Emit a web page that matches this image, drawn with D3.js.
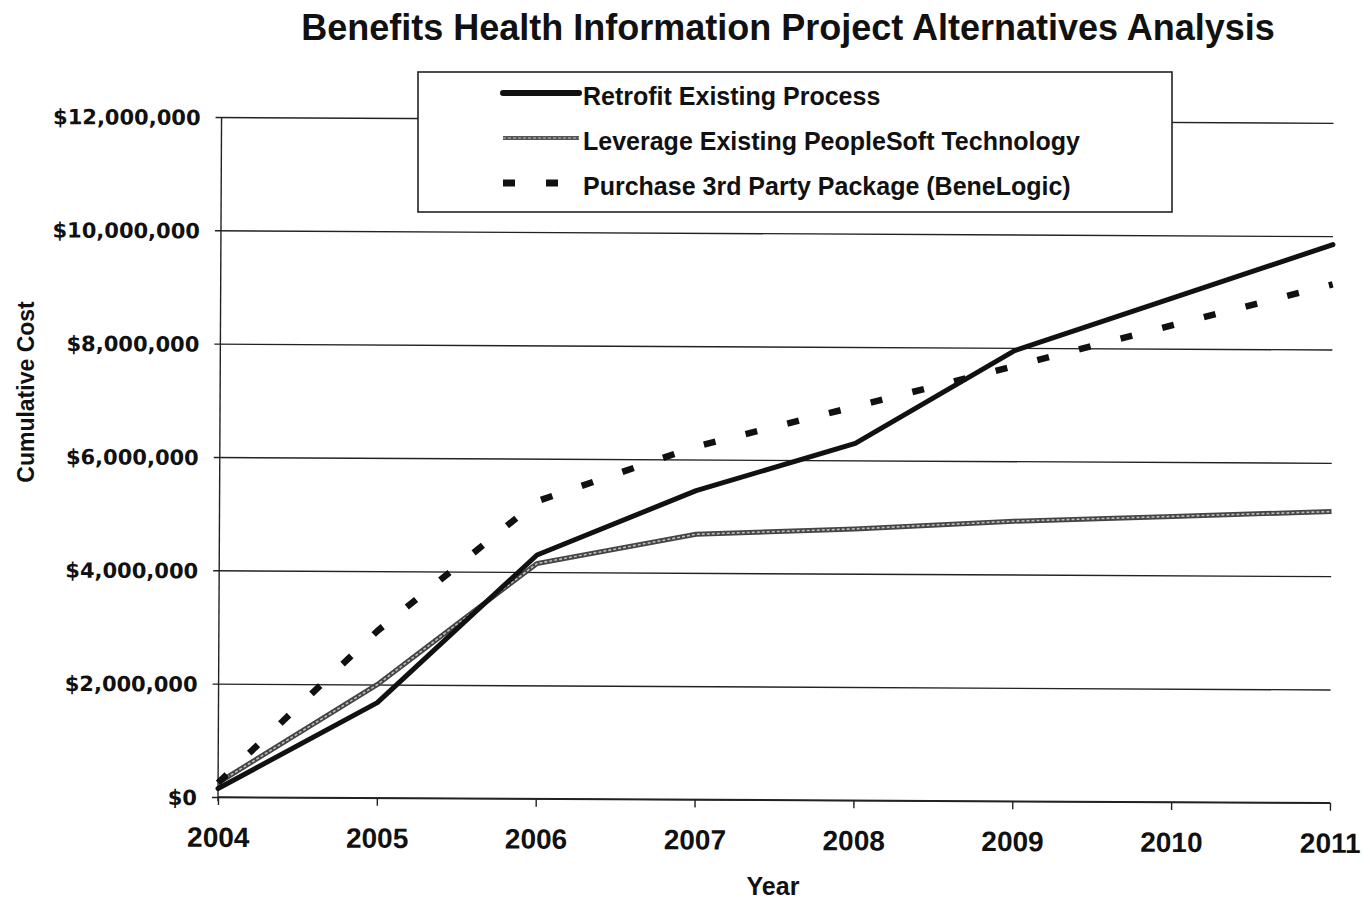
<!DOCTYPE html>
<html>
<head>
<meta charset="utf-8">
<script src="https://cdn.jsdelivr.net/npm/d3@7"></script>
<style>
    body { margin: 0; background: #fff; }
    text { font-family: 'Liberation Sans', Arial, sans-serif; font-weight: bold; fill: #111; }
    .ytick text { font-family: 'DejaVu Sans', Verdana, sans-serif; }
</style>
</head>
<body>
<div id="chart"></div>
<script>
'use strict';

// chart values
var years = [2004, 2005, 2006, 2007, 2008, 2009, 2010, 2011];
var retrofit = [150000, 1680000, 4300000, 5450000, 6300000, 7950000, 8900000, 9850000];
var leverage = [250000, 2000000, 4150000, 4680000, 4790000, 4940000, 5040000, 5140000];
var purchase = [250000, 2950000, 5250000, 6230000, 6950000, 7680000, 8420000, 9150000];
var costTicks = [0, 2000000, 4000000, 6000000, 8000000, 10000000, 12000000];
var seriesNames = ['Retrofit Existing Process', 'Leverage Existing PeopleSoft Technology', 'Purchase 3rd Party Package (BeneLogic)'];

(function() {
    var width = 1363,
        height = 903,
        plotLeft = 218,
        plotRight = 1330,
        plotTop = 117,
        plotBottom = 797;

    var svg = d3.select('#chart')
        .append('svg')
        .attr('width', width)
        .attr('height', height);

    var x = d3.scaleLinear().domain([2004, 2011]).range([plotLeft, plotRight]);
    var y = d3.scaleLinear().domain([0, 12000000]).range([plotBottom, plotTop]);

    // the scan is a little tilted, so the whole plot is turned slightly
    var plot = svg.append('g')
        .attr('transform', 'rotate(0.3,' + plotLeft + ',' + plotBottom + ')');

    // gridlines + y ticks
    var yAxis = d3.axisLeft(y)
        .tickValues(costTicks)
        .tickSize(-(plotRight - plotLeft))
        .tickPadding(21)
        .tickFormat(function(d) { return '$' + d3.format(',')(d); });

    var yg = plot.append('g')
        .attr('class', 'ytick')
        .attr('transform', 'translate(' + plotLeft + ',0)')
        .call(yAxis);
    yg.select('.domain').remove();
    yg.selectAll('line')
        .attr('x1', -6)
        .attr('stroke', '#222')
        .attr('stroke-width', 1.4);
    yg.selectAll('text')
        .style('font-size', '21px')
        .attr('dy', '0.36em');

    // x axis
    var xAxis = d3.axisBottom(x)
        .tickValues(years)
        .tickSize(8)
        .tickPadding(0)
        .tickFormat(d3.format('d'));

    var xg = plot.append('g')
        .attr('transform', 'translate(0,' + plotBottom + ')')
        .call(xAxis);
    xg.select('.domain')
        .attr('d', 'M' + plotLeft + ',0H' + plotRight)
        .attr('stroke', '#222')
        .attr('stroke-width', 1.6);
    xg.selectAll('line').attr('stroke', '#222').attr('stroke-width', 1.4);
    xg.selectAll('text')
        .style('font-size', '28px')
        .attr('y', 50)
        .attr('dy', null);

    // y axis line
    plot.append('line')
        .attr('x1', plotLeft).attr('x2', plotLeft)
        .attr('y1', plotTop).attr('y2', plotBottom + 4)
        .attr('stroke', '#222')
        .attr('stroke-width', 1.4);

    var line = d3.line()
        .x(function(d, i) { return x(years[i]); })
        .y(function(d) { return y(d); });

    // leverage: dark edges with a light textured middle
    plot.append('path')
        .attr('d', line(leverage))
        .attr('fill', 'none')
        .attr('stroke', '#444')
        .attr('stroke-width', 5);
    plot.append('path')
        .attr('d', line(leverage))
        .attr('fill', 'none')
        .attr('stroke', '#bbb')
        .attr('stroke-width', 1.6)
        .attr('stroke-dasharray', '3,2');

    plot.append('path')
        .attr('d', line(retrofit))
        .attr('fill', 'none')
        .attr('stroke', '#111')
        .attr('stroke-width', 5)
        .attr('stroke-linejoin', 'round')
        .attr('stroke-linecap', 'round');

    plot.append('path')
        .attr('d', line(purchase))
        .attr('fill', 'none')
        .attr('stroke', '#111')
        .attr('stroke-width', 6.5)
        .attr('stroke-dasharray', '12,31');

    // legend
    var legend = svg.append('g');
    legend.append('rect')
        .attr('x', 418).attr('y', 72)
        .attr('width', 754).attr('height', 140)
        .attr('fill', '#fff')
        .attr('stroke', '#222')
        .attr('stroke-width', 1.6);

    var rows = legend.selectAll('g.row')
        .data(seriesNames)
        .enter()
        .append('g')
        .attr('class', 'row')
        .attr('transform', function(d, i) { return 'translate(0,' + (93 + i * 45) + ')'; });

    rows.append('line')
        .attr('x1', 503).attr('x2', 579)
        .attr('stroke', function(d, i) { return i === 1 ? '#555' : '#111'; })
        .attr('stroke-width', function(d, i) { return i === 0 ? 6 : (i === 1 ? 4 : 7); })
        .attr('stroke-linecap', function(d, i) { return i === 0 ? 'round' : 'butt'; })
        .attr('stroke-dasharray', function(d, i) { return i === 2 ? '12,31' : null; });
    rows.filter(function(d, i) { return i === 1; })
        .append('line')
        .attr('x1', 503).attr('x2', 579)
        .attr('stroke', '#bbb')
        .attr('stroke-width', 1.2)
        .attr('stroke-dasharray', '3,2');

    rows.append('text')
        .attr('x', 583)
        .attr('y', 12)
        .style('font-size', '25px')
        .text(function(d) { return d; });

    // titles
    svg.append('text')
        .attr('x', 788).attr('y', 40)
        .attr('text-anchor', 'middle')
        .style('font-size', '36px')
        .text('Benefits Health Information Project Alternatives Analysis');

    svg.append('text')
        .attr('x', 773).attr('y', 895)
        .attr('text-anchor', 'middle')
        .style('font-size', '25px')
        .text('Year');

    svg.append('text')
        .attr('transform', 'translate(34,392) rotate(-90)')
        .attr('text-anchor', 'middle')
        .style('font-size', '23px')
        .text('Cumulative Cost');
})();
</script>
</body>
</html>
